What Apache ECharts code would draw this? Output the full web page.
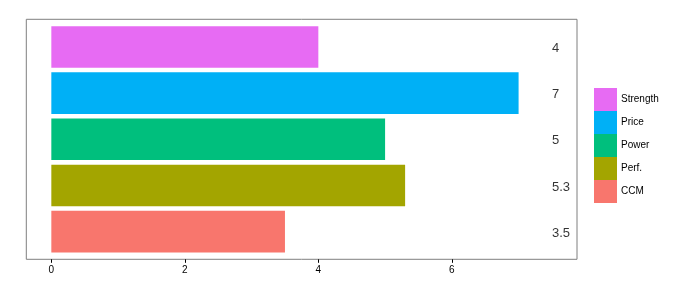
<!DOCTYPE html>
<html><head><meta charset="utf-8">
<script src="https://cdn.jsdelivr.net/npm/echarts@6/dist/echarts.min.js"></script>
<style>html,body{margin:0;padding:0;background:#fff}#c{width:696px;height:294px}</style>
</head><body><div id="c"></div>
<script>
const categories = ['CCM', 'Perf.', 'Power', 'Price', 'Strength'];
const values = [3.5, 5.3, 5, 7, 4];
const colors = ['#F8766D', '#A3A500', '#00BF7D', '#00B0F6', '#E76BF3'];
const xTicks = [0, 2, 4, 6];
const labelX = 7.5;
const legendOrder = ['Strength', 'Price', 'Power', 'Perf.', 'CCM'];

const font = 'Liberation Sans, Arial, sans-serif';
const xMin = -0.375, xMax = 7.875;
const chart = echarts.init(document.getElementById('c'));

const series = categories.map((name, i) => ({
  name, type: 'bar', xAxisIndex: 1, yAxisIndex: 1,
  barGap: '-100%', barWidth: '90%',
  itemStyle: { color: colors[i] },
  data: categories.map((c, j) => j === i ? values[i] : null),
  animation: false
}));
series.push({
  type: 'scatter', xAxisIndex: 1, yAxisIndex: 1, symbolSize: 0, silent: true,
  data: categories.map((c, i) => [labelX, c]),
  label: { show: true, position: 'right', distance: 0, align: 'left', color: '#000', fontSize: 13, fontFamily: font,
    offset: [0, 1.5], formatter: p => String(values[p.dataIndex]) },
  animation: false
});

chart.setOption({
  animation: false,
  grid: [
    { left: 26.3, top: 19.3, width: 550.7, height: 240, show: true, borderColor: '#7f7f7f', borderWidth: 1, containLabel: false },
    { left: 26.3, top: 23.9, width: 550.7, height: 230.8, containLabel: false }
  ],
  xAxis: [
    { gridIndex: 0, type: 'value', min: xMin, max: xMax, interval: 2,
      axisLine: { show: false }, splitLine: { show: false },
      axisTick: { show: true, length: 3.5, lineStyle: { color: '#000' }, customValues: xTicks },
      axisLabel: { color: '#000', fontSize: 10, fontFamily: font, margin: 6, customValues: xTicks } },
    { gridIndex: 1, type: 'value', min: xMin, max: xMax, show: false }
  ],
  yAxis: [
    { gridIndex: 0, type: 'value', show: false },
    { gridIndex: 1, type: 'category', data: categories, show: false }
  ],
  legend: {
    orient: 'vertical', left: 594, top: 88, padding: 0, itemWidth: 23, itemHeight: 23, itemGap: 0,
    icon: 'rect', data: legendOrder, textStyle: { fontSize: 10, color: '#000', fontFamily: font, padding: [4, 0, 0, -1] },
    itemStyle: { borderWidth: 0 }, selectedMode: false
  },
  series
});
</script></body></html>
